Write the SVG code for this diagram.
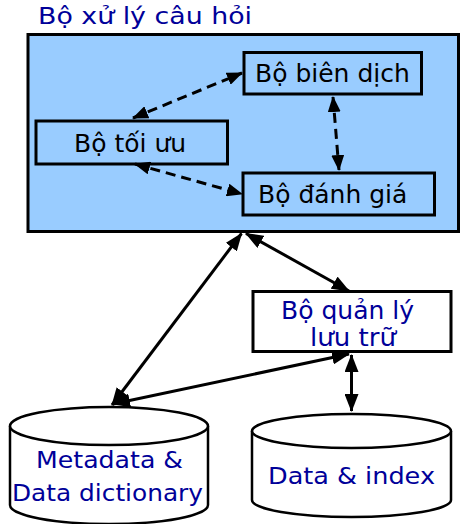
<svg xmlns="http://www.w3.org/2000/svg" width="467" height="524" viewBox="0 0 467 524">
<style>
.box{stroke:#000;stroke-width:3}
.t{font-family:"DejaVu Sans","Liberation Sans",sans-serif;font-size:25px;fill:#000}
.b{font-family:"DejaVu Sans","Liberation Sans",sans-serif;font-size:24px;fill:#000099}
.bs{font-family:"DejaVu Sans","Liberation Sans",sans-serif;font-size:23px;fill:#000099}
.cyl{fill:#fff;stroke:#000;stroke-width:2.5}
.solid{fill:none;stroke:#000;stroke-width:3;marker-start:url(#ah);marker-end:url(#ah)}
.dash{fill:none;stroke:#000;stroke-width:3;stroke-dasharray:10 6;marker-start:url(#ahs);marker-end:url(#ahs)}
</style>
<defs>
<marker id="ah" markerUnits="userSpaceOnUse" markerWidth="18" markerHeight="14" viewBox="0 0 18 14" refX="17" refY="7" orient="auto-start-reverse">
<path d="M0,0 L18,7 L0,14 z" fill="#000"/>
</marker>
<marker id="ahs" markerUnits="userSpaceOnUse" markerWidth="16" markerHeight="13" viewBox="0 0 16 13" refX="15" refY="6.5" orient="auto-start-reverse">
<path d="M0,0 L16,6.5 L0,13 z" fill="#000"/>
</marker>
</defs>

<text class="bs" x="38" y="24" textLength="214" lengthAdjust="spacingAndGlyphs">Bộ xử lý câu hỏi</text>

<g id="query-processor">
<rect class="box" x="28" y="34.5" width="430.5" height="197" fill="#99CCFF"/>
</g>

<g id="compiler">
<rect class="box" x="244" y="52.5" width="177.5" height="41.5" fill="#99CCFF"/>
<text class="t" x="255" y="82">Bộ biên dịch</text>
</g>

<g id="optimizer">
<rect class="box" x="36" y="121" width="191.5" height="43" fill="#99CCFF"/>
<text class="t" x="74" y="152">Bộ tối ưu</text>
</g>

<g id="evaluator">
<rect class="box" x="243" y="173" width="191.5" height="42" fill="#99CCFF"/>
<text class="t" x="258" y="203">Bộ đánh giá</text>
</g>

<g id="storage-manager">
<rect class="box" x="253" y="291.5" width="198" height="60" fill="#fff"/>
<text class="b" x="281" y="319" textLength="133" lengthAdjust="spacingAndGlyphs">Bộ quản lý</text>
<text class="b" x="310" y="346" textLength="86" lengthAdjust="spacingAndGlyphs">lưu trữ</text>
</g>

<g id="metadata">
<path class="cyl" d="M10,426 L10,505 A99,19 0 0 0 208,505 L208,426 A99,19 0 0 0 10,426 Z"/>
<path class="cyl" fill="none" d="M10,426 A99,19 0 0 0 208,426"/>
<text class="bs" x="36" y="468" textLength="147" lengthAdjust="spacingAndGlyphs">Metadata &amp;</text>
<text class="bs" x="12" y="501" textLength="191" lengthAdjust="spacingAndGlyphs">Data dictionary</text>
</g>

<g id="data-index">
<path class="cyl" d="M252,431 L252,500 A99.5,17 0 0 0 451,500 L451,431 A99.5,17 0 0 0 252,431 Z"/>
<path class="cyl" fill="none" d="M252,431 A99.5,17 0 0 0 451,431"/>
<text class="bs" x="268" y="484" textLength="167" lengthAdjust="spacingAndGlyphs">Data &amp; index</text>
</g>

<g id="connectors">
<line class="dash" x1="133" y1="118" x2="242" y2="73"/>
<line class="dash" x1="333" y1="97" x2="339" y2="170"/>
<line class="dash" x1="135" y1="164" x2="242" y2="194"/>
<line class="solid" x1="241.5" y1="233.5" x2="112" y2="405"/>
<line class="solid" x1="246" y1="233.5" x2="349" y2="291"/>
<line class="solid" x1="113" y1="404" x2="349" y2="354"/>
<line class="solid" x1="351.5" y1="355" x2="351.5" y2="411"/>
</g>
</svg>
